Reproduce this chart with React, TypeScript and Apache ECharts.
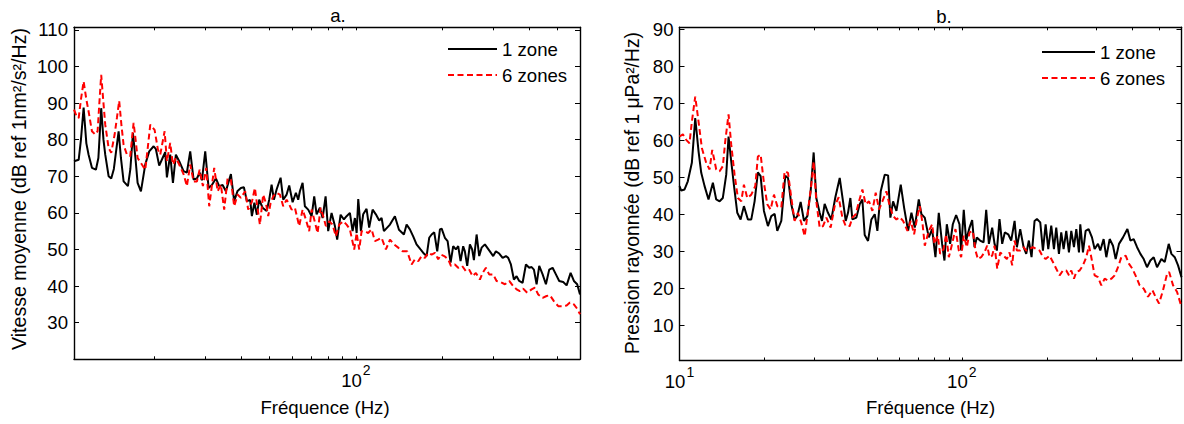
import React, { useEffect, useRef } from 'react';
import * as echarts from 'echarts';

// ---------- Panel a : Vitesse moyenne ----------
const freqA1 = [10.5, 10.9, 11.1, 11.34, 11.59, 11.8, 12.12, 12.51, 12.76, 13.05, 13.29, 13.48, 13.85, 14.14, 14.44, 15.0, 15.28, 15.61, 16.16, 16.48, 16.82, 17.16, 17.46, 17.93, 18.56, 19.16, 19.85, 20.21, 20.75, 21.32, 21.77, 22.07, 22.66, 23.16, 23.71, 24.35, 25.21, 25.89, 26.59, 27.32, 28.05, 28.67, 29.2, 29.98, 30.8, 31.62, 32.65, 33.52, 34.45, 35.37, 36.81, 37.79, 38.83, 39.87, 40.84, 41.83, 42.95, 43.54, 44.42, 45.31, 46.15, 47.42, 48.98, 50.0, 50.97, 51.92, 53.05, 54.77, 55.93, 57.47, 58.68, 60.29, 61.9, 63.05, 63.91, 65.3, 66.51, 68.3, 70.19, 71.66, 73.05, 74.99, 76.63, 78.49, 80.13, 82.33, 84.55, 86.1, 88.5, 90.85, 92.83, 95.32, 97.39, 99.2, 100.6, 101.9, 104.1, 106.0, 108.9, 111.2, 114.3, 117.3, 120.5, 122.8, 125.1, 131.3, 136.6, 141.1, 146.8, 150.0, 154.0, 158.1, 162.4, 167.7, 172.2, 176.0, 179.7, 183.2, 187.1, 191.6, 195.8, 198.5, 203.7, 208.2, 213.2, 217.7, 222.4, 226.6, 230.9, 235.8, 239.0, 243.5, 248.8, 253.4, 256.9, 262.5, 268.0, 273.2, 280.5, 291.9, 299.7, 306.3, 314.5, 323.2, 331.8, 338.0, 345.3, 353.7, 361.4, 369.0, 379.2, 389.4, 399.8, 407.5, 415.1, 424.1, 433.1, 445.0, 456.9, 469.1, 482.0, 494.9, 508.1, 524.6, 539.1, 556.6, 571.4, 586.7, 600];
const zone1A = [74.1, 74.5, 80, 88.8, 79, 75.9, 72.3, 71.8, 75, 88.6, 80, 75.9, 70, 69.4, 72, 82.3, 75, 68.6, 67.3, 72, 81.8, 75, 68.2, 65.9, 73.2, 76.8, 78.2, 77.4, 72.9, 75, 76.6, 69.7, 75.9, 68.2, 75.9, 74.1, 71.4, 71, 76.8, 69.1, 69.4, 71, 68.9, 76.8, 66.8, 67.6, 69.4, 67.3, 67.6, 65.9, 70.6, 63.2, 66, 66.8, 67, 63.2, 63.5, 59.1, 62.8, 59.5, 63.6, 61.4, 60.5, 63.6, 67.7, 63.6, 66.4, 69.6, 63.6, 65, 67.5, 62.9, 65.5, 63.6, 65.9, 68.2, 61.8, 60.9, 59.1, 64.5, 59.6, 61.4, 58.6, 64.5, 55, 60, 56.4, 52.7, 59.5, 58.2, 59.1, 60, 55, 58.6, 54.5, 63.8, 55, 59.6, 61.1, 56, 60.9, 59.6, 57.9, 58.6, 55, 56.8, 59.1, 55.4, 54.1, 56.8, 55.5, 53.6, 51.4, 50, 48.9, 48.2, 53.2, 54.1, 54.7, 49.5, 55.5, 55.7, 53.2, 52.3, 46.4, 50.9, 50, 50.9, 46.8, 50.9, 49.5, 45.5, 51.4, 50, 47.1, 54.1, 48.2, 50.5, 51.4, 49.5, 48.2, 49.5, 48.9, 47.7, 48.2, 47.7, 45.9, 41.8, 42.7, 41.4, 40.9, 45.9, 45, 45.2, 44.5, 40.5, 45.5, 43.2, 40.5, 44.5, 45, 43.2, 41.4, 41.1, 40.2, 43.6, 41.4, 40.5, 37.7];

const freqA6 = [10.5, 10.72, 10.9, 11.1, 11.34, 11.59, 11.8, 12.12, 12.44, 12.68, 12.86, 13.05, 13.29, 13.48, 13.85, 14.14, 14.53, 14.8, 15.07, 15.34, 15.61, 16.03, 16.46, 16.91, 17.18, 17.46, 18.07, 18.56, 18.95, 19.32, 20.0, 20.54, 20.92, 21.67, 22.07, 22.66, 23.16, 23.71, 24.35, 25.21, 25.89, 26.59, 27.32, 28.05, 28.67, 29.43, 30.22, 30.95, 32.21, 33.11, 33.98, 34.89, 35.85, 36.81, 37.79, 38.83, 39.87, 41.27, 42.27, 43.54, 44.6, 45.5, 46.42, 47.65, 48.7, 49.61, 50.56, 51.62, 53.05, 54.47, 55.93, 57.47, 58.68, 59.8, 61.4, 63.55, 65.3, 67.05, 68.83, 70.19, 71.66, 73.62, 75.41, 77.0, 78.67, 80.78, 83.0, 85.2, 87.5, 90.35, 92.83, 95.32, 98.65, 100.6, 102.7, 104.66, 107.5, 110.3, 113.4, 116.4, 119.5, 122.8, 127.1, 131.3, 135.5, 140.3, 145.3, 150.7, 156.1, 160.3, 164.6, 169.1, 173.6, 178.2, 183.2, 188.1, 193.1, 197.3, 202.6, 209.2, 213.8, 220.7, 226.6, 233.9, 240.9, 247.4, 254.2, 261.0, 269.5, 275.4, 282.8, 290.2, 299.7, 307.9, 317.9, 329.2, 340.7, 351.8, 361.4, 371.0, 380.9, 393.3, 407.5, 418.4, 429.5, 445.0, 459.3, 471.7, 486.9, 504.1, 522.2, 539.1, 553.5, 571.4, 586.7, 600];
const zones6A = [88.2, 86.4, 85.9, 91, 95.9, 91, 87.7, 82.3, 81.4, 82.3, 90, 97.7, 90, 84.1, 77.7, 76.4, 81.4, 86, 90.6, 84, 78.6, 75.9, 75.5, 84.6, 80, 75, 73.2, 71.8, 78, 84.1, 82.7, 77.3, 75.9, 82.3, 74.1, 79.1, 73.2, 75, 73.2, 70.6, 67.3, 73.2, 68.6, 68.6, 71.8, 67.3, 72.3, 61.8, 72.3, 65.9, 67.7, 60.9, 69.4, 69.1, 61.8, 65, 64.1, 65.9, 60.9, 63, 66.8, 61.5, 56.8, 65, 62.7, 59.1, 62.7, 64.5, 65.5, 65, 61.8, 63.6, 62.3, 60.9, 61.4, 56.4, 60.9, 58.2, 55, 60.9, 58.2, 54.5, 61.4, 59.1, 56.4, 57.7, 56.8, 53.6, 56.8, 57.7, 56.8, 55.5, 50, 54.5, 50, 55, 55, 54.5, 55.5, 52.3, 52.7, 53.2, 50, 52.7, 51.4, 50.5, 49.5, 49.5, 45.9, 47.3, 46.8, 48.2, 47.7, 49.1, 48.6, 49.1, 47.3, 48.6, 48.2, 47.3, 45.5, 45.9, 45, 45.5, 44.1, 44.5, 42.7, 43.6, 41.8, 43.6, 45, 43.2, 43.2, 41.4, 41.1, 40.5, 41.4, 40, 39.1, 38.6, 39.3, 38.2, 39.1, 39.6, 37.7, 36.8, 37.3, 37.5, 35.9, 34.5, 34.5, 34.7, 35.5, 35, 33.8, 32.3];

// ---------- Panel b : Pression rayonnée ----------
const freqB1 = [10, 10.14, 10.42, 10.7, 11.06, 11.37, 11.68, 11.94, 12.27, 12.67, 13.13, 13.49, 13.87, 14.24, 14.64, 14.92, 15.25, 15.58, 16.02, 16.46, 16.91, 17.47, 17.96, 18.45, 18.95, 19.38, 19.91, 20.57, 21.14, 21.73, 22.2, 22.94, 23.7, 24.23, 24.89, 25.57, 26.14, 26.86, 27.6, 28.37, 29.14, 29.87, 30.52, 31.37, 31.97, 32.67, 33.57, 34.5, 35.65, 36.94, 37.95, 38.79, 39.53, 40.29, 40.96, 42.32, 43.48, 44.44, 45.29, 46.54, 47.83, 49.15, 50.22, 51.62, 53.33, 54.81, 55.85, 57.09, 58.66, 60.77, 62.45, 64.52, 66.3, 68.13, 70.39, 71.94, 73.92, 76.38, 78.49, 80.65, 82.87, 85.15, 86.8, 88.48, 90.92, 92.92, 95.47, 98.1, 99.45, 101.6, 103.6, 106.5, 108.8, 110.9, 113.0, 116.1, 119.4, 122.0, 124.7, 128.1, 130.6, 133.1, 136.0, 139.0, 142.0, 146.0, 149.6, 153.8, 156.7, 161.0, 165.5, 169.1, 172.8, 176.6, 181.0, 184.5, 189.6, 193.8, 198.1, 202.4, 207.4, 212.0, 216.0, 220.8, 225.0, 229.4, 234.4, 239.6, 244.2, 249.6, 254.4, 260.0, 262.8, 268.6, 274.5, 281.3, 289.1, 295.4, 303.6, 309.4, 317.9, 325.0, 334.0, 343.2, 350.7, 360.4, 372.4, 385.9, 395.4, 406.3, 417.6, 429.1, 440.9, 452.9, 465.4, 478.3, 491.5, 509.2, 523.3, 540.6, 552.6, 567.8, 583.4, 600];
const zone1B = [47.6, 46.4, 46.7, 48.9, 53.9, 66, 57, 51.2, 47.6, 44, 48.5, 44, 43.5, 44.4, 50.7, 61, 54.3, 48, 40.4, 38.6, 42.2, 38.6, 38.6, 43.5, 51.3, 50.3, 40.9, 36.8, 39.5, 40.1, 35.5, 38.2, 50.4, 49.8, 42.7, 38.6, 39.5, 43.3, 38.2, 39.5, 46.2, 56.7, 44.4, 40.4, 38.2, 42.8, 40.4, 38.6, 44.6, 49.8, 43.5, 38.2, 40.4, 44.4, 38.6, 39.1, 42.7, 44, 34.4, 32.8, 38.6, 40, 35.5, 46.2, 50.7, 50.5, 39.1, 43.5, 40.9, 48, 41.8, 35.5, 40.4, 36.4, 44, 40, 39.1, 33.75, 36, 28.4, 40.4, 32, 27.5, 37.3, 32, 37.3, 39.8, 37.3, 30.2, 41.2, 32.9, 36.4, 38.4, 31.1, 33.75, 32.9, 32.4, 41.2, 32, 36.4, 32, 30.2, 38.7, 32, 35.1, 34.6, 32.9, 38.2, 31.1, 36, 31.1, 29.3, 32.9, 28.4, 38.2, 38.7, 37.8, 30.2, 37.3, 30.6, 36.9, 30.6, 36.4, 29.3, 35.1, 30.6, 35.5, 29.7, 35.5, 31.1, 36, 29.7, 37.3, 29.7, 35.5, 36, 33.75, 30.6, 32, 30.2, 33.3, 28.4, 33.3, 31.5, 27.9, 32, 33.75, 36, 32.9, 33.3, 31.1, 29.3, 27.9, 25.7, 27.5, 28.4, 25.7, 27.9, 27.1, 32, 29.3, 28.4, 26.2, 23];

const freqB6 = [10, 10.28, 10.56, 10.85, 11.06, 11.37, 11.68, 12.0, 12.43, 12.78, 13.06, 13.49, 13.87, 14.24, 14.52, 14.92, 15.25, 15.67, 16.1, 16.55, 16.91, 17.38, 17.96, 18.55, 18.95, 19.38, 19.91, 20.46, 21.02, 21.61, 22.2, 22.94, 23.57, 24.23, 24.89, 25.57, 26.28, 27.0, 27.76, 28.52, 29.3, 29.87, 30.52, 31.37, 32.24, 33.13, 34.31, 35.45, 36.63, 37.75, 38.79, 40.07, 40.96, 42.09, 43.24, 44.44, 45.66, 46.92, 48.22, 49.55, 50.92, 52.32, 54.06, 55.55, 57.09, 58.66, 60.27, 61.94, 64.19, 65.94, 67.76, 69.64, 70.99, 72.54, 73.92, 76.38, 78.49, 80.0, 82.2, 83.8, 86.1, 88.0, 89.95, 92.4, 94.96, 97.6, 99.45, 101.6, 104.2, 106.5, 109.4, 111.8, 114.0, 117.1, 120.3, 123.0, 125.4, 128.1, 130.6, 133.5, 136.8, 140.6, 144.4, 147.6, 150.8, 153.8, 156.7, 161.0, 165.5, 169.1, 173.8, 178.6, 183.5, 188.5, 192.7, 198.1, 204.6, 210.2, 216.0, 222.0, 228.1, 234.4, 239.6, 244.2, 249.6, 254.4, 261.4, 268.6, 276.0, 282.1, 287.5, 295.4, 303.6, 312.0, 320.6, 329.5, 338.6, 347.9, 357.5, 367.3, 380.6, 391.1, 401.8, 415.2, 426.6, 440.9, 456.6, 473.2, 488.8, 499.6, 516.2, 533.4, 542.3, 560.2, 578.8, 600];
const zones6B = [61, 61.6, 60.1, 59.2, 65, 71.8, 65, 57.9, 53.9, 52.1, 57.4, 52.1, 51.6, 53, 59.7, 67, 58.8, 50.7, 44.4, 43.5, 48, 44.4, 45.3, 47.6, 55.6, 56.1, 48.5, 42.7, 41.3, 45.3, 42.2, 41.8, 51.6, 51.2, 44.4, 38.2, 40.4, 37.7, 34.1, 40.9, 48, 54.3, 43.5, 36.4, 36.8, 39.1, 36.4, 42.2, 44.6, 39.1, 36.8, 36.8, 39.1, 40, 43.5, 46.7, 42.7, 43.5, 40.9, 45.8, 41.3, 43.5, 46.2, 42.2, 39.5, 38.6, 39.2, 38.2, 35.5, 38.2, 34.6, 39.5, 42.2, 37.7, 31.5, 35.5, 37.3, 32, 34.2, 29.3, 30.6, 34.6, 28.4, 32, 36, 30.2, 28.4, 34.2, 31.1, 35.1, 35.5, 30.2, 27.9, 28.4, 29.7, 31.5, 28.4, 28.8, 31.5, 25.3, 29.7, 28.8, 27.9, 29.7, 26.2, 32.9, 30.2, 30.2, 31.1, 30.2, 30.6, 31.1, 30.6, 30.2, 28.8, 27.9, 28.8, 27.1, 25.3, 23.5, 24.8, 24.8, 23.5, 24.8, 22.6, 24.4, 24.8, 26.2, 28.4, 31.5, 28.4, 23.5, 23, 20.8, 22.6, 22.1, 22.6, 23.5, 25.7, 28.4, 28.8, 26.6, 25.3, 23, 20.8, 19.9, 17.7, 19.5, 17.2, 15.9, 19.5, 23.9, 24.4, 20.8, 19, 15];

// ---------- axes ----------
const xTicksA = [20, 30, 40, 50, 60, 70, 80, 90, 100, 200, 300, 400, 500];
const xTicksB = [10, 20, 30, 40, 50, 60, 70, 80, 90, 100, 200, 300, 400, 500];
const xLabelsA = [100];
const xLabelsB = [10, 100];
const yTicksA = [30, 40, 50, 60, 70, 80, 90, 100, 110];
const yTicksB = [10, 20, 30, 40, 50, 60, 70, 80, 90];

const seriesNames = ['1 zone', '6 zones'];
const titles = ['a.', 'b.'];
const xName = 'Fréquence (Hz)';
const yNames = ['Vitesse moyenne (dB ref 1nm²/s²/Hz)', 'Pression rayonnée (dB ref 1 μPa²/Hz)'];

const FONT = '"Liberation Sans", Arial, Helvetica, sans-serif';
const FS = 18.6;

export default function App() {
  const ref = useRef<HTMLDivElement>(null);

  useEffect(() => {
    if (!ref.current) return;
    const chart = echarts.init(ref.current, null, { renderer: 'svg' });
    const pair = (f: number[], v: number[]) => f.map((x, i) => [x, v[i]]);

    const grids = [
      { left: 74, top: 27.3, width: 506, height: 332 },
      { left: 679.5, top: 27.3, width: 502, height: 333.2 },
    ];
    const xRange = [[10.5, 600], [10, 600]];
    const yRange = [[20, 110.7], [0.5, 90.5]];

    const supFmt = (v: number) => {
      const e = Math.round(Math.log10(v));
      return '{n|10}{s|' + e + '}';
    };

    const lineAxis = { show: true, lineStyle: { color: '#000', width: 1.4 } };

    const mkX = (g: number, pos: 'bottom' | 'top', ticks: number[], labels: number[] | null) => ({
      type: 'log',
      logBase: 10,
      gridIndex: g,
      position: pos,
      min: xRange[g][0],
      max: xRange[g][1],
      axisLine: lineAxis,
      splitLine: { show: false },
      minorTick: { show: false },
      axisTick: { show: true, inside: true, length: 3, customValues: ticks, lineStyle: { color: '#000', width: 1 } },
      axisLabel: labels
        ? {
            show: true,
            customValues: labels,
            margin: 4,
            color: '#000',
            fontFamily: FONT,
            formatter: (v: number) => supFmt(v),
            rich: {
              n: { fontSize: FS, fontFamily: FONT, color: '#000' },
              s: { fontSize: 14, fontFamily: FONT, color: '#000', padding: [0, 0, 20, 1] },
            },
          }
        : { show: false },
    });

    const mkY = (g: number, pos: 'left' | 'right', ticks: number[], showLabel: boolean) => ({
      type: 'value',
      gridIndex: g,
      position: pos,
      min: yRange[g][0],
      max: yRange[g][1],
      axisLine: lineAxis,
      splitLine: { show: false },
      axisTick: { show: true, inside: true, length: 5, customValues: ticks, lineStyle: { color: '#000', width: 1 } },
      axisLabel: showLabel
        ? { show: true, customValues: ticks, margin: 6, color: '#000', fontSize: FS, fontFamily: FONT }
        : { show: false },
    });

    const mkSeries = (name: string, g: number, data: number[][], red: boolean) => ({
      name,
      type: 'line',
      xAxisIndex: g,
      yAxisIndex: g,
      data,
      symbol: 'none',
      showSymbol: false,
      clip: true,
      lineStyle: red
        ? { color: '#ff0000', width: 2, type: [6, 3.5] }
        : { color: '#000000', width: 2, type: 'solid' },
      itemStyle: { color: red ? '#ff0000' : '#000000' },
      z: red ? 3 : 2,
    });

    const mkLegend = (left: number, top: number, w: number) => ({
      data: seriesNames,
      orient: 'vertical',
      left,
      top,
      itemWidth: w,
      itemHeight: 14,
      itemGap: 6,
      selectedMode: false,
      itemStyle: { opacity: 0 },
      textStyle: { fontSize: FS, fontFamily: FONT, color: '#000', lineHeight: 20 },
    });

    const txt = (text: string, x: number, y: number, rot = 0, fs = FS) => ({
      type: 'text',
      x,
      y,
      rotation: rot,
      style: {
        text,
        fontSize: fs,
        fontFamily: FONT,
        fill: '#000',
        textAlign: 'center',
        textVerticalAlign: 'middle',
        align: 'center',
        verticalAlign: 'middle',
      },
    });

    const option = {
      animation: false,
      backgroundColor: '#ffffff',
      grid: grids,
      xAxis: [
        mkX(0, 'bottom', xTicksA, xLabelsA),
        mkX(1, 'bottom', xTicksB, xLabelsB),
        mkX(0, 'top', xTicksA, null),
        mkX(1, 'top', xTicksB, null),
      ],
      yAxis: [
        mkY(0, 'left', yTicksA, true),
        mkY(1, 'left', yTicksB, true),
        mkY(0, 'right', yTicksA, false),
        mkY(1, 'right', yTicksB, false),
      ],
      legend: [mkLegend(442, 34, 49), mkLegend(1036, 37, 53)],
      series: [
        mkSeries(seriesNames[0], 0, pair(freqA1, zone1A), false),
        mkSeries(seriesNames[1], 0, pair(freqA6, zones6A), true),
        mkSeries(seriesNames[0], 1, pair(freqB1, zone1B), false),
        mkSeries(seriesNames[1], 1, pair(freqB6, zones6B), true),
      ],
      graphic: [
        txt(titles[0], 338, 15.5),
        txt(titles[1], 944, 16),
        txt(xName, 325, 407),
        txt(xName, 930.5, 407),
        txt(yNames[0], 19, 189, Math.PI / 2, 19.6),
        txt(yNames[1], 632, 193, Math.PI / 2, 19.3),
      ],
    };

    chart.setOption(option as any);
    return () => chart.dispose();
  }, []);

  return (
    <div
      ref={ref}
      style={{ position: 'fixed', left: 0, top: 0, width: 1184, height: 424, background: '#fff' }}
    />
  );
}
